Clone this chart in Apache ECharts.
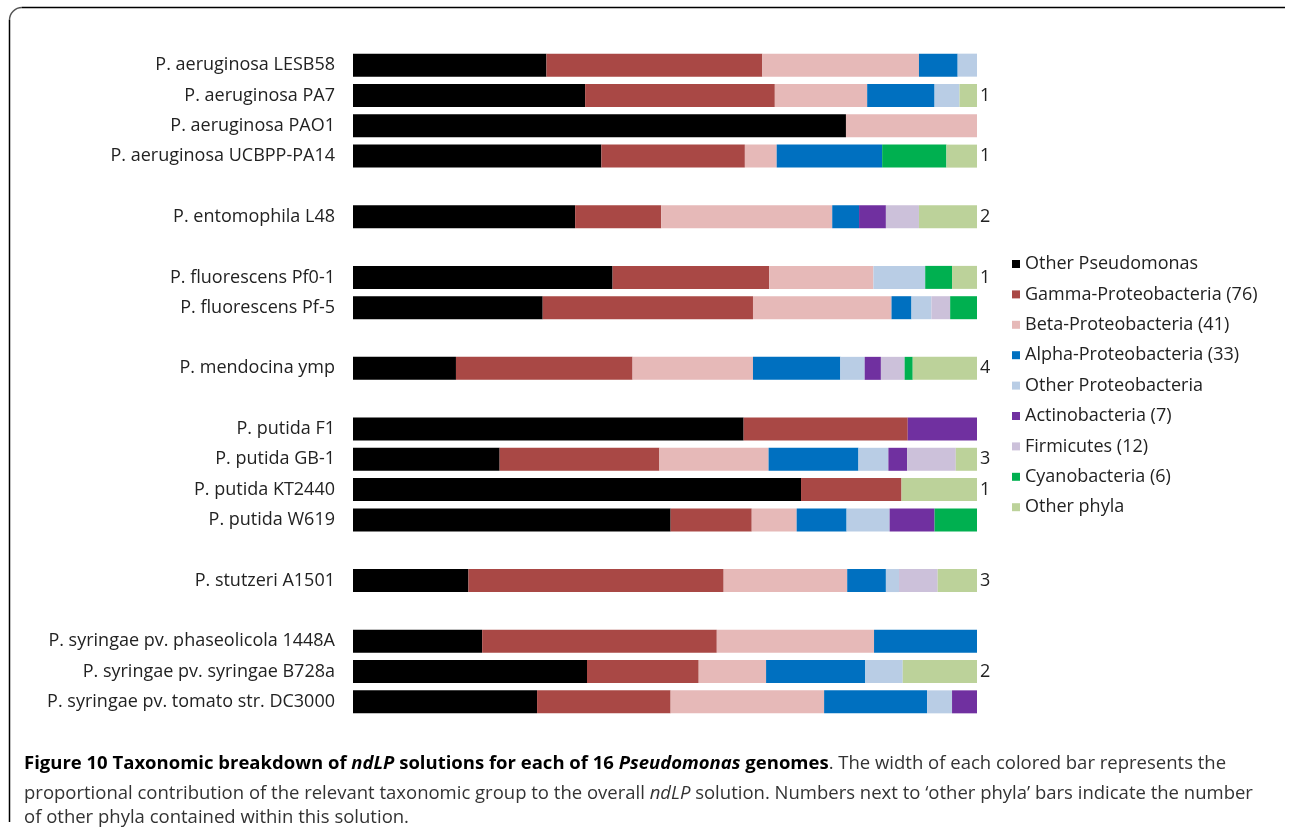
<!DOCTYPE html>
<html lang="en">

<head>
  <meta charset="UTF-8">
  <title>Figure 10</title>
  <script src="https://cdn.jsdelivr.net/npm/echarts@6/dist/echarts.min.js"></script>
  <style>
    body { margin: 0; background: #fff; }
  </style>
</head>

<body>
  <div id="main" style="width: 1290px;height: 833px;"></div>

  <script>
    var genomes = [
      'P. aeruginosa LESB58', 'P. aeruginosa PA7', 'P. aeruginosa PAO1', 'P. aeruginosa UCBPP-PA14',
      'P. entomophila L48',
      'P. fluorescens Pf0-1', 'P. fluorescens Pf-5',
      'P. mendocina ymp',
      'P. putida F1', 'P. putida GB-1', 'P. putida KT2440', 'P. putida W619',
      'P. stutzeri A1501',
      'P. syringae pv. phaseolicola 1448A', 'P. syringae pv. syringae B728a', 'P. syringae pv. tomato str. DC3000'
    ]
    // a blank row is left after these genome indexes
    var gapAfter = [3, 4, 6, 7, 11, 12]

    var groups = [
      'Other Pseudomonas', 'Gamma-Proteobacteria (76)', 'Beta-Proteobacteria (41)', 'Alpha-Proteobacteria (33)',
      'Other Proteobacteria', 'Actinobacteria (7)', 'Firmicutes (12)', 'Cyanobacteria (6)', 'Other phyla'
    ]
    var colors = ['#000000', '#A94845', '#E6B9B8', '#0070C0', '#B9CDE5', '#7030A0', '#CCC1DA', '#00B050', '#BCD29A']

    // percent of each ndLP solution, one value per genome
    var otherPseudomonas = [31.0, 37.2, 79.0, 39.8, 35.6, 41.6, 30.4, 16.5, 62.6, 23.5, 71.8, 50.9, 18.5, 20.7, 37.5, 29.5]
    var gammaProteo = [34.6, 30.4, 0, 23.0, 13.8, 25.1, 33.7, 28.3, 26.3, 25.6, 16.1, 13.0, 40.9, 37.6, 17.9, 21.4]
    var betaProteo = [25.1, 14.8, 21.0, 5.1, 27.4, 16.7, 22.2, 19.3, 0, 17.5, 0, 7.2, 19.8, 25.2, 10.8, 24.6]
    var alphaProteo = [6.2, 10.8, 0, 16.9, 4.3, 0, 3.2, 14.0, 0, 14.4, 0, 8.0, 6.2, 16.5, 15.9, 16.5]
    var otherProteo = [3.1, 4.0, 0, 0, 0, 8.3, 3.2, 3.9, 0, 4.8, 0, 6.9, 2.1, 0, 6.0, 4.0]
    var actino = [0, 0, 0, 0, 4.3, 0, 0, 2.6, 11.1, 3.0, 0, 7.2, 0, 0, 0, 4.0]
    var firmicutes = [0, 0, 0, 0, 5.3, 0, 3.0, 3.8, 0, 7.8, 0, 0, 6.2, 0, 0, 0]
    var cyano = [0, 0, 0, 10.3, 0, 4.3, 4.3, 1.3, 0, 0, 0, 6.8, 0, 0, 0, 0]
    var otherPhyla = [0, 2.8, 0, 4.9, 9.3, 4.0, 0, 10.3, 0, 3.4, 12.1, 0, 6.3, 0, 11.9, 0]
    // number of other phyla, shown at the bar end
    var phylaCount = ['', '1', '', '1', '2', '1', '', '4', '', '3', '1', '', '3', '', '2', '']

    var values = [otherPseudomonas, gammaProteo, betaProteo, alphaProteo, otherProteo, actino, firmicutes, cyano, otherPhyla]

    // build category rows with the blank rows between species
    var cats = []
    var rowOf = []
    genomes.forEach(function (g, i) {
      rowOf.push(cats.length)
      cats.push(g)
      if (gapAfter.indexOf(i) >= 0) cats.push('_gap' + i)
    })

    function expand(arr) {
      var out = cats.map(function () { return null })
      arr.forEach(function (v, i) { out[rowOf[i]] = v })
      return out
    }

    var labelFont = '"Open Sans", "Noto Sans", sans-serif'
    var capSize = 18.5

    var series = groups.map(function (name, k) {
      var s = {
        name: name,
        type: 'bar',
        stack: 'total',
        barWidth: 23,
        itemStyle: { color: colors[k] },
        data: expand(values[k])
      }
      if (k === groups.length - 1) {
        var counts = expand(phylaCount)
        s.label = {
          show: true,
          position: 'right',
          distance: 3,
          fontFamily: labelFont,
          fontSize: 18,
          color: '#222',
          formatter: function (p) { return counts[p.dataIndex] || '' }
        }
      }
      return s
    })

    var mCharts = echarts.init(document.getElementById('main'))
    var option = {
      animation: false,
      backgroundColor: '#fff',
      grid: { left: 353, top: 50, width: 624, height: 667 },
      xAxis: { type: 'value', min: 0, max: 100, show: false },
      yAxis: {
        type: 'category',
        inverse: true,
        data: cats,
        axisLine: { show: false },
        axisTick: { show: false },
        axisLabel: {
          margin: 18,
          fontFamily: labelFont,
          fontSize: 18,
          color: '#222',
          formatter: function (v) { return v.indexOf('_gap') === 0 ? '' : v }
        }
      },
      legend: {
        orient: 'vertical',
        left: 1012,
        top: 254,
        padding: 0,
        icon: 'rect',
        itemWidth: 8,
        itemHeight: 8,
        itemGap: 10.4,
        selectedMode: false,
        textStyle: { fontFamily: labelFont, fontSize: 18, color: '#222', lineHeight: 20 },
        data: groups
      },
      graphic: [
        { type: 'line', shape: { x1: 22, y1: 7.5, x2: 1285, y2: 7.5 }, style: { stroke: '#000', lineWidth: 1.5 } },
        { type: 'line', shape: { x1: 9.5, y1: 20, x2: 9.5, y2: 822 }, style: { stroke: '#000', lineWidth: 1.5 } },
        { type: 'arc', shape: { cx: 22, cy: 20, r: 12.5, startAngle: Math.PI, endAngle: Math.PI * 1.5 }, style: { stroke: '#555', lineWidth: 1.5, fill: null } },
        {
          type: 'text', left: 24, top: 754,
          style: {
            text: '{b|Figure 10 Taxonomic breakdown of }{bi|ndLP}{b| solutions for each of 16 }{bi|Pseudomonas}{b| genomes}{n|. The width of each colored bar represents the}',
            rich: {
              b: { fontFamily: labelFont, fontSize: capSize, fontWeight: 'bold', fill: '#000' },
              bi: { fontFamily: labelFont, fontSize: capSize, fontWeight: 'bold', fontStyle: 'italic', fill: '#000' },
              n: { fontFamily: labelFont, fontSize: capSize, fill: '#333' }
            }
          }
        },
        {
          type: 'text', left: 24, top: 784,
          style: {
            text: '{n|proportional contribution of the relevant taxonomic group to the overall }{i|ndLP}{n| solution. Numbers next to \u2018other phyla\u2019 bars indicate the number}',
            rich: {
              n: { fontFamily: labelFont, fontSize: capSize, fill: '#333' },
              i: { fontFamily: labelFont, fontSize: capSize, fontStyle: 'italic', fill: '#333' }
            }
          }
        },
        {
          type: 'text', left: 24, top: 808,
          style: { text: 'of other phyla contained within this solution.', fontFamily: labelFont, fontSize: capSize, fill: '#333' }
        }
      ],
      series: series
    }
    mCharts.setOption(option)
  </script>
</body>

</html>
